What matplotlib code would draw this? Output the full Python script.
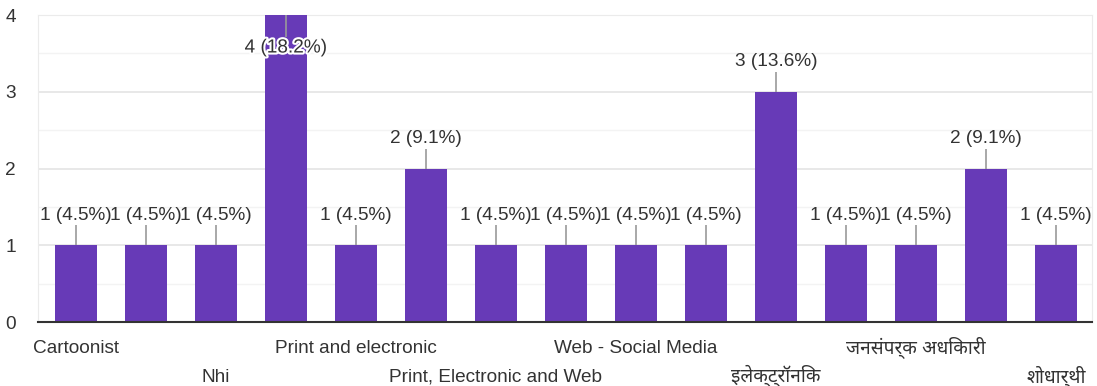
import matplotlib
matplotlib.use('Agg')
import matplotlib.pyplot as plt
import matplotlib.patheffects as pe
from matplotlib import font_manager

categories = ['Cartoonist', '', 'Nhi', '', 'Print and electronic', '',
              'Print, Electronic and Web', '', 'Web - Social Media', '',
              'इलेक्ट्रॉनिक', '', 'जनसंपर्क अधिकारी', '', 'शोधार्थी']
counts = [1, 1, 1, 4, 1, 2, 1, 1, 1, 1, 3, 1, 1, 2, 1]
total = sum(counts)

# pick a Devanagari font close to the Mangal / Noto look
installed = set(f.name for f in font_manager.fontManager.ttflist)
deva_font = None
for name in ['Noto Sans Devanagari', 'Hind', 'Mukta', 'Poppins', 'Anek Devanagari', 'Akshar']:
    if name in installed:
        deva_font = name
        break

families = ['Liberation Sans']
if deva_font:
    families.append(deva_font)
families.append('DejaVu Sans')
plt.rcParams['font.family'] = families

bar_color = '#673ab7'
text_color = '#333333'
font_size = 13.7

fig = plt.figure(figsize=(10.97, 3.86), dpi=100)
ax = fig.add_axes([0.0346, 0.1658, 0.961, 0.7953])

x = list(range(len(counts)))
ax.bar(x, counts, width=0.6, color=bar_color, zorder=3)

ax.set_xlim(-0.54, 14.52)
ax.set_ylim(0, 4)
ax.set_yticks([0, 1, 2, 3, 4])
ax.set_yticks([0.5, 1.5, 2.5, 3.5], minor=True)
ax.grid(axis='y', which='major', color='#e6e6e6', linewidth=1.3, zorder=0)
ax.grid(axis='y', which='minor', color='#f3f3f3', linewidth=1.0, zorder=0)
ax.tick_params(axis='y', which='both', length=0, pad=16, labelsize=font_size, labelcolor=text_color)
ax.set_xticks([])

for side in ['left', 'right', 'top']:
    ax.spines[side].set_color('#ebebeb')
ax.spines['bottom'].set_color('#333333')
ax.spines['bottom'].set_linewidth(1.5)
ax.spines['bottom'].set_zorder(4)

ymax = max(counts)
for i, v in enumerate(counts):
    label = '%d (%.1f%%)' % (v, 100.0 * v / total)
    if v >= ymax:
        ax.vlines(i, v - 0.29, v, color='#999999', linewidth=1.2, zorder=4)
        t = ax.text(i, v - 0.43, label, ha='center', va='center', fontsize=font_size,
                    color=text_color, zorder=5)
        t.set_path_effects([pe.withStroke(linewidth=3, foreground='white')])
    else:
        ax.vlines(i, v, v + 0.26, color='#999999', linewidth=1.2, zorder=4)
        ax.text(i, v + 0.39, label, ha='center', va='center', fontsize=font_size,
                color=text_color, zorder=5)

# category labels, every other one shown, staggered on two rows
trans = ax.get_xaxis_transform()
for i, name in enumerate(categories):
    if not name:
        continue
    row = (i // 2) % 2
    y = -0.101 if row == 0 else -0.195
    ax.text(i, y, name, transform=trans, ha='center', va='baseline',
            fontsize=font_size, color=text_color)

fig.savefig('out.png', dpi=100)
